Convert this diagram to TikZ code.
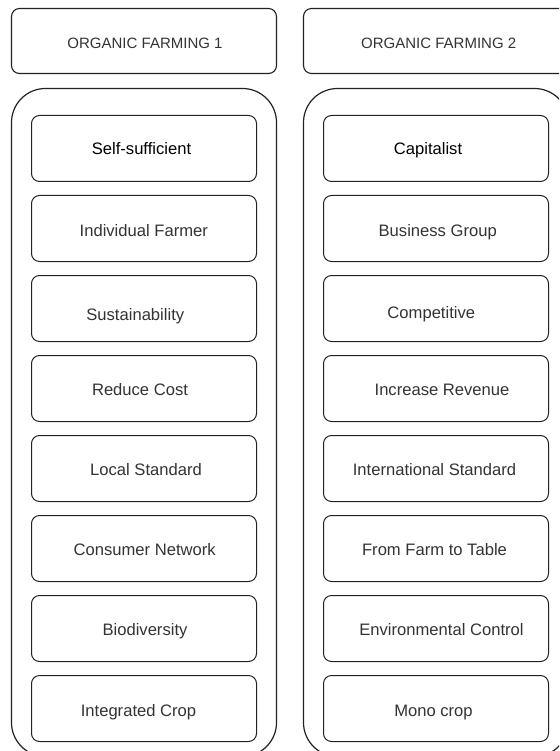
\documentclass[tikz,border=0pt]{standalone}
\usepackage{fontspec}
\setmainfont{Liberation Sans}
\definecolor{linec}{HTML}{222222}
\definecolor{txtc}{HTML}{333333}
\tikzset{
  hdrbox/.style={draw=linec, line width=1.1pt, rounded corners=8pt, minimum width=265pt, minimum height=65pt, inner sep=0pt},
  cont/.style={draw=linec, line width=1.2pt, rounded corners=34pt, minimum width=265pt, minimum height=668pt, inner sep=0pt},
  itembox/.style={draw=linec, line width=1.0pt, rounded corners=8pt, minimum width=225pt, minimum height=66pt, inner sep=0pt},
  hdrtxt/.style={anchor=base, inner sep=0pt, font=\fontsize{15}{18}\selectfont, text=txtc},
  itemtxt/.style={anchor=base, inner sep=0pt, font=\fontsize{16.6}{19}\selectfont, text=txtc},
  firsttxt/.style={itemtxt, text=black}
}
\begin{document}
\begin{tikzpicture}[x=1pt,y=-1pt]
\useasboundingbox (0,0) rectangle (559,751);
\clip (0,0) rectangle (559,751);
% headers
\node[hdrbox] (h1) at (144,41) {};
\node[hdrbox] (h2) at (436,41) {};
\node[hdrtxt] (h1t) at (145,48.3) {ORGANIC FARMING 1};
\node[hdrtxt] (h2t) at (438.7,48.3) {ORGANIC FARMING 2};
% containers
\node[cont] (c1) at (144,422.5) {};
\node[cont] (c2) at (436,422.5) {};
% left column boxes
\node[itembox] (l1) at (144,148.5) {};
\node[itembox] (l2) at (144,228.5) {};
\node[itembox] (l3) at (144,308.5) {};
\node[itembox] (l4) at (144,388.5) {};
\node[itembox] (l5) at (144,468.5) {};
\node[itembox] (l6) at (144,548.5) {};
\node[itembox] (l7) at (144,628.5) {};
\node[itembox] (l8) at (144,708.5) {};
% left column texts
\node[firsttxt] (l1t) at (141.5,155) {Self-sufficient};
\node[itemtxt] (l2t) at (143.8,236.7) {Individual Farmer};
\node[itemtxt] (l3t) at (135.3,320) {Sustainability};
\node[itemtxt] (l4t) at (140,395.7) {Reduce Cost};
\node[itemtxt] (l5t) at (146,475) {Local Standard};
\node[itemtxt] (l6t) at (144.7,555) {Consumer Network};
\node[itemtxt] (l7t) at (145,635) {Biodiversity};
\node[itemtxt] (l8t) at (138.5,716.7) {Integrated Crop};
% right column boxes
\node[itembox] (r1) at (436,148.5) {};
\node[itembox] (r2) at (436,228.5) {};
\node[itembox] (r3) at (436,308.5) {};
\node[itembox] (r4) at (436,388.5) {};
\node[itembox] (r5) at (436,468.5) {};
\node[itembox] (r6) at (436,548.5) {};
\node[itembox] (r7) at (436,628.5) {};
\node[itembox] (r8) at (436,708.5) {};
% right column texts
\node[firsttxt] (r1t) at (428,155) {Capitalist};
\node[itemtxt] (r2t) at (437.7,236) {Business Group};
\node[itemtxt] (r3t) at (431.3,318.3) {Competitive};
\node[itemtxt] (r4t) at (442,395.7) {Increase Revenue};
\node[itemtxt] (r5t) at (434.5,475) {International Standard};
\node[itemtxt] (r6t) at (434.5,555) {From Farm to Table};
\node[itemtxt] (r7t) at (441.5,635) {Environmental Control};
\node[itemtxt] (r8t) at (433.5,716.7) {Mono crop};
\end{tikzpicture}
\end{document}
